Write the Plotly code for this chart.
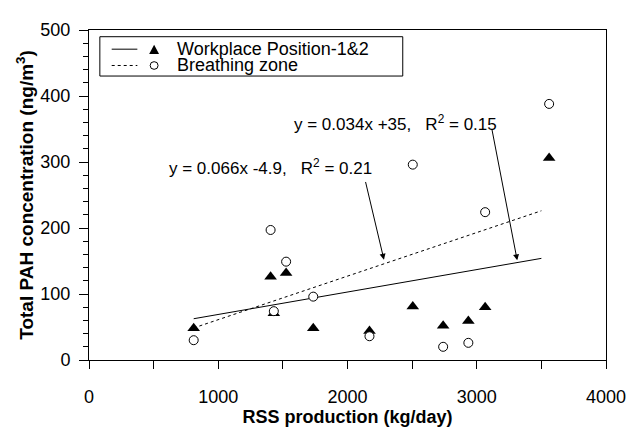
import plotly.graph_objects as go

# ---- data ----
rss_production = [810, 1405, 1430, 1525, 1735, 2170, 2505, 2740, 2935, 3065, 3560]
workplace_pah = [48, 126, 71, 132, 48, 44, 81, 52, 59, 80, 306]
breathing_pah = [30, 197, 74, 149, 96, 36, 296, 20, 26, 224, 388]

fit_x_range = [810, 3500]
workplace_fit = {"slope": 0.034, "intercept": 35, "r2": 0.15}
breathing_fit = {"slope": 0.066, "intercept": -4.9, "r2": 0.21}

legend_labels = ["Workplace Position-1&2", "Breathing zone"]
x_ticks = [0, 1000, 2000, 3000, 4000]
y_ticks = [0, 100, 200, 300, 400, 500]

FONT = "Liberation Sans, Arial, sans-serif"
OFF = 8  # default page margin of the browser body
W, H = 638 - OFF, 432 - OFF
ML, MR, MT, MB = 89 - OFF, 25, 25 - OFF, 63
PW, PH = W - ML - MR, H - MT - MB


def px(xp):
    return (xp - OFF - ML) / PW


def py(yp):
    return (H - MB - (yp - OFF)) / PH


fig = go.Figure()

# regression lines
for fit, dash in [(workplace_fit, "solid"), (breathing_fit, "dot")]:
    fig.add_trace(go.Scatter(
        x=fit_x_range,
        y=[fit["slope"] * v + fit["intercept"] for v in fit_x_range],
        mode="lines", line=dict(color="black", width=1, dash=dash),
        showlegend=False, hoverinfo="skip"))

fig.add_trace(go.Scatter(
    x=rss_production, y=workplace_pah, mode="markers", name=legend_labels[0],
    marker=dict(symbol="triangle-up", size=11, color="black",
                line=dict(color="black", width=0)),
    showlegend=False))
fig.add_trace(go.Scatter(
    x=rss_production, y=breathing_pah, mode="markers", name=legend_labels[1],
    marker=dict(symbol="circle", size=9, color="white",
                line=dict(color="black", width=1)),
    showlegend=False))


def eq_text(fit):
    sign = "+" if fit["intercept"] >= 0 else "-"
    return (f"y = {fit['slope']}x {sign}{abs(fit['intercept']):g},   "
            f"R<sup>2</sup> = {fit['r2']:.2f}")


annotations = [
    dict(x=2374, y=359, xref="x", yref="y", text=eq_text(workplace_fit),
         showarrow=False, font=dict(family=FONT, size=17, color="black")),
    dict(x=1405, y=292, xref="x", yref="y", text=eq_text(breathing_fit),
         showarrow=False, font=dict(family=FONT, size=17, color="black")),
    # arrows
    dict(x=3313, y=151, ax=3115, ay=352, xref="x", yref="y", axref="x", ayref="y",
         text="", showarrow=True, arrowhead=2, arrowsize=1.2, arrowwidth=1,
         arrowcolor="black"),
    dict(x=2282, y=152, ax=2137, ay=272, xref="x", yref="y", axref="x", ayref="y",
         text="", showarrow=True, arrowhead=2, arrowsize=1.2, arrowwidth=1,
         arrowcolor="black"),
]

# manual legend
shapes = [
    dict(type="rect", xref="paper", yref="paper", x0=px(100), x1=px(407),
         y0=py(73), y1=py(32), line=dict(color="black", width=1), fillcolor="white",
         layer="above"),
    dict(type="line", xref="paper", yref="paper", x0=px(112), x1=px(138),
         y0=py(45), y1=py(45), line=dict(color="black", width=1)),
    dict(type="line", xref="paper", yref="paper", x0=px(112), x1=px(138),
         y0=py(62), y1=py(62), line=dict(color="black", width=1, dash="dot")),
    dict(type="path", xref="paper", yref="paper",
         path=f"M {px(150)},{py(50)} L {px(160)},{py(50)} L {px(155)},{py(40.5)} Z",
         fillcolor="black", line=dict(color="black", width=0)),
    dict(type="circle", xref="paper", yref="paper", x0=px(151), x1=px(159),
         y0=py(66), y1=py(58), line=dict(color="black", width=1), fillcolor="white"),
]
for label, yrow in zip(legend_labels, [44.5, 62]):
    annotations.append(dict(x=px(176), y=py(yrow), xref="paper", yref="paper",
                            xanchor="left", yanchor="middle", text=label,
                            showarrow=False,
                            font=dict(family=FONT, size=18, color="black")))

fig.update_layout(
    width=W, height=H,
    margin=dict(l=ML, r=MR, t=MT, b=MB),
    paper_bgcolor="white", plot_bgcolor="white",
    font=dict(family=FONT, size=18, color="black"),
    showlegend=False,
    annotations=annotations,
    shapes=shapes,
)
fig.update_xaxes(
    range=[0, 4000], tickvals=x_ticks, ticks="outside", ticklen=8, tickwidth=1,
    tickcolor="black", showline=True, linecolor="black", linewidth=1, mirror=True,
    showgrid=False, zeroline=False, ticklabelstandoff=12, ticklabeloverflow="allow",
    minor=dict(dtick=500, ticks="outside", ticklen=8, tickcolor="black", showgrid=False),
    title=dict(text="<b>RSS production (kg/day)</b>", standoff=1,
               font=dict(family=FONT, size=18)),
)
fig.update_yaxes(
    range=[0, 500], tickvals=y_ticks, ticks="outside", ticklen=9, tickwidth=1,
    tickcolor="black", showline=True, linecolor="black", linewidth=1, mirror=True,
    showgrid=False, zeroline=False, ticklabelstandoff=5,
    minor=dict(dtick=20, ticks="outside", ticklen=5, tickcolor="black", showgrid=False),
    title=dict(text="<b>Total PAH concentration (ng/m<sup>3</sup>)</b>", standoff=1,
               font=dict(family=FONT, size=19)),
)

fig.write_html("out.html")
